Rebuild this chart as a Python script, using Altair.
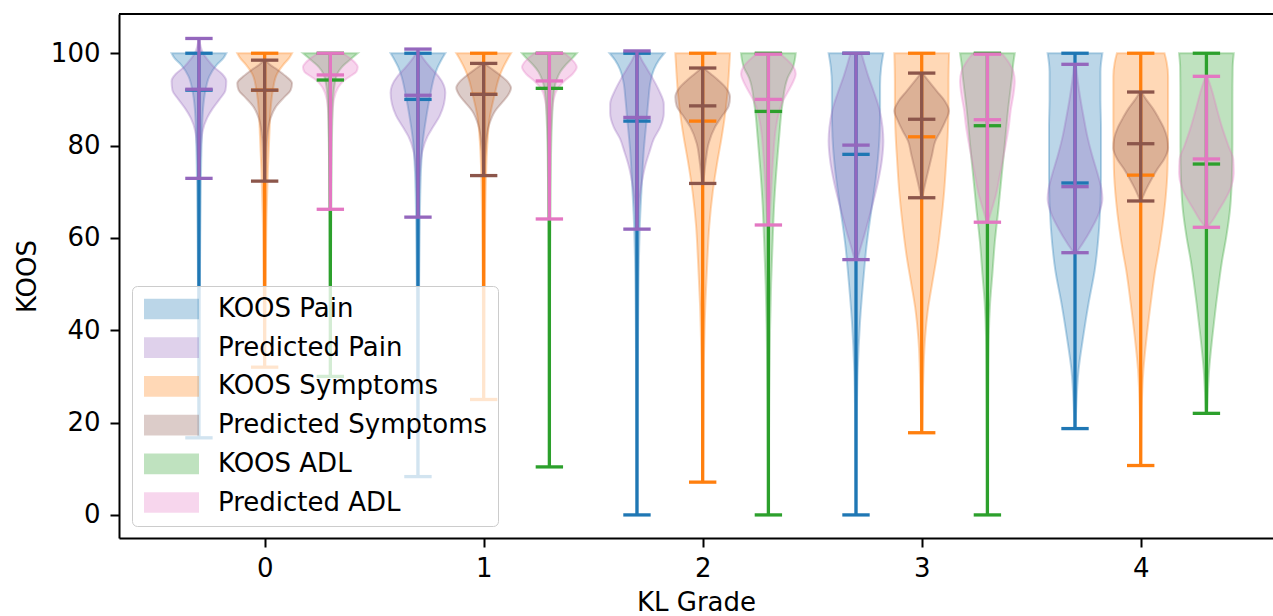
import altair as alt
import pandas as pd

# ---------------- data ----------------
grades = [0, 1, 2, 3, 4]
series = ["KOOS Pain", "Predicted Pain", "KOOS Symptoms",
          "Predicted Symptoms", "KOOS ADL", "Predicted ADL"]
colors = ["#1f77b4", "#9467bd", "#ff7f0e", "#8c564b", "#2ca02c", "#e377c2"]
offsets = [-0.3, -0.3, 0.0, 0.0, 0.3, 0.3]

mins_pain = [16.7, 8.3, 0.0, 0.0, 18.7]
med_pain = [92.0, 90.0, 85.3, 78.1, 71.9]
max_pain = [100, 100, 100, 100, 100]

mins_ppain = [72.9, 64.5, 61.9, 55.3, 56.8]
med_ppain = [92.2, 90.9, 86.1, 80.1, 71.1]
max_ppain = [103.2, 100.9, 100.5, 100.0, 97.6]

mins_sym = [32.0, 25.0, 7.1, 17.8, 10.7]
med_sym = [92.0, 91.1, 85.3, 81.9, 73.6]
max_sym = [100, 100, 100, 100, 100]

mins_psym = [72.3, 73.5, 71.8, 68.7, 68.0]
med_psym = [92.0, 91.1, 88.6, 85.7, 80.4]
max_psym = [98.5, 97.8, 96.8, 95.7, 91.6]

mins_adl = [30.0, 10.4, 0.0, 0.0, 22.0]
med_adl = [94.2, 92.4, 87.4, 84.3, 76.0]
max_adl = [100, 100, 100, 100, 100]

mins_padl = [66.2, 64.1, 62.8, 63.4, 62.3]
med_padl = [95.3, 94.0, 90.0, 85.6, 77.1]
max_padl = [100.0, 100.0, 99.8, 99.8, 95.0]

# violin outlines: [score, relative half width] from top to bottom, per grade
prof_pain = [
    [[100, 1.0], [99, 0.9], [97.5, 0.65], [95, 0.38], [92, 0.24], [88, 0.15], [81, 0.1], [72, 0.07], [55, 0.04], [35, 0.02], [16.7, 0.01]],
    [[100, 1.0], [98.5, 0.85], [97, 0.72], [95, 0.6], [91, 0.45], [86, 0.3], [81, 0.18], [73, 0.1], [60, 0.06], [40, 0.03], [20, 0.015], [8.3, 0.01]],
    [[100, 1.0], [98.5, 0.8], [96.5, 0.62], [94, 0.5], [90, 0.42], [86, 0.36], [79, 0.25], [72, 0.18], [65, 0.12], [55, 0.07], [40, 0.04], [20, 0.025], [0, 0.015]],
    [[100, 1.0], [97, 0.92], [93, 0.88], [88, 0.88], [82, 0.86], [77, 0.8], [72.7, 0.72], [65.5, 0.55], [58, 0.38], [53, 0.3], [42, 0.15], [31, 0.06], [20, 0.03], [0, 0.015]],
    [[100, 1.0], [96, 0.93], [90, 0.93], [84, 0.95], [73, 0.95], [62, 0.88], [53, 0.72], [46, 0.5], [38.6, 0.3], [31.4, 0.13], [24, 0.05], [18.7, 0.02]],
]
prof_ppain = [
    [[103.2, 0.01], [101.5, 0.06], [100, 0.15], [98.5, 0.33], [97, 0.55], [95.5, 0.85], [94, 1.0], [92, 0.97], [90, 0.75], [88, 0.5], [86, 0.3], [83, 0.13], [78, 0.05], [72.9, 0.02]],
    [[100.9, 0.01], [99.5, 0.12], [98, 0.3], [96.5, 0.52], [95, 0.75], [93, 0.95], [91.5, 1.0], [89, 0.95], [86.5, 0.8], [84, 0.55], [82, 0.35], [79, 0.17], [75, 0.08], [70, 0.04], [64.5, 0.02]],
    [[100.5, 0.02], [98.5, 0.18], [96.5, 0.38], [94.5, 0.58], [92, 0.8], [89, 0.98], [87, 0.98], [84, 0.85], [81.5, 0.62], [78.5, 0.45], [76, 0.32], [71, 0.15], [66, 0.06], [61.9, 0.02]],
    [[100, 0.2], [97.5, 0.32], [95, 0.45], [91.5, 0.66], [88, 0.85], [84, 0.97], [81, 1.0], [77, 0.95], [72, 0.8], [66, 0.55], [60.5, 0.3], [57.5, 0.15], [55.3, 0.05]],
    [[97.6, 0.03], [94, 0.1], [90, 0.2], [86, 0.32], [82, 0.45], [78, 0.62], [74, 0.82], [70.5, 0.97], [68.5, 1.0], [65, 0.85], [62, 0.6], [59, 0.3], [56.8, 0.05]],
]
prof_sym = [
    [[100, 1.0], [99, 0.9], [97.5, 0.68], [95.5, 0.45], [92, 0.3], [88, 0.22], [82, 0.17], [75, 0.12], [65, 0.07], [50, 0.04], [32, 0.015]],
    [[100, 1.0], [98.5, 0.85], [96.5, 0.68], [94.5, 0.55], [91, 0.4], [86, 0.22], [80, 0.13], [72, 0.08], [60, 0.05], [45, 0.03], [25, 0.015]],
    [[100, 1.0], [95, 0.95], [91, 0.9], [85.5, 0.79], [81, 0.67], [77, 0.55], [70, 0.37], [62.5, 0.24], [55, 0.17], [46, 0.1], [35, 0.05], [20, 0.025], [7.1, 0.01]],
    [[100, 1.0], [94, 0.98], [88, 0.98], [82, 0.95], [77, 0.9], [70, 0.82], [63, 0.7], [56, 0.55], [50, 0.38], [45, 0.24], [38, 0.12], [28, 0.05], [17.8, 0.01]],
    [[100, 0.87], [98, 0.95], [95, 1.0], [85, 1.0], [75, 0.98], [68, 0.9], [62, 0.78], [57, 0.65], [53, 0.53], [46, 0.37], [38.7, 0.22], [31.5, 0.1], [24, 0.04], [17, 0.02], [10.7, 0.01]],
]
prof_psym = [
    [[98.5, 0.03], [97.5, 0.2], [96.5, 0.45], [95, 0.78], [93.5, 1.0], [92, 0.95], [90.5, 0.72], [88.5, 0.42], [86, 0.22], [82, 0.1], [77, 0.05], [72.3, 0.02]],
    [[97.8, 0.03], [96.8, 0.25], [95.5, 0.55], [94, 0.85], [92.5, 1.0], [91, 0.9], [89.5, 0.7], [87.5, 0.42], [84.5, 0.2], [80, 0.08], [73.5, 0.02]],
    [[96.8, 0.03], [95.5, 0.3], [94, 0.6], [92.5, 0.85], [90.5, 1.0], [88.5, 0.95], [86.5, 0.72], [84, 0.45], [80.5, 0.22], [77, 0.12], [74, 0.06], [71.8, 0.02]],
    [[95.7, 0.03], [94, 0.25], [91.8, 0.55], [89.6, 0.85], [87.5, 1.0], [85.5, 0.88], [83, 0.68], [81, 0.5], [78, 0.38], [75.5, 0.28], [72, 0.14], [68.7, 0.02]],
    [[91.6, 0.03], [90, 0.2], [88, 0.45], [86, 0.65], [84, 0.83], [81.5, 0.97], [79.5, 1.0], [77, 0.85], [75, 0.62], [73, 0.42], [70.5, 0.2], [68, 0.02]],
]
prof_adl = [
    [[100, 1.0], [99, 0.8], [98, 0.6], [97, 0.42], [95.5, 0.25], [93, 0.15], [89, 0.09], [82, 0.06], [70, 0.04], [50, 0.02], [30, 0.01]],
    [[100, 1.0], [99, 0.85], [97.5, 0.6], [96, 0.4], [94, 0.25], [91, 0.15], [86, 0.1], [78, 0.06], [65, 0.04], [45, 0.02], [25, 0.015], [10.4, 0.01]],
    [[100, 1.0], [97, 0.9], [94.6, 0.7], [88.8, 0.51], [81.6, 0.39], [74.4, 0.29], [67.2, 0.21], [60, 0.16], [50, 0.1], [40, 0.06], [25, 0.03], [10, 0.015], [0, 0.01]],
    [[100, 1.0], [98, 0.95], [95, 0.9], [88, 0.76], [80.6, 0.64], [73.4, 0.52], [66.2, 0.4], [59, 0.27], [52, 0.18], [46, 0.1], [38.7, 0.05], [25, 0.025], [10, 0.015], [0, 0.01]],
    [[100, 1.0], [97, 0.96], [90, 0.95], [80, 0.95], [73, 0.93], [66, 0.86], [60, 0.72], [55, 0.57], [50, 0.45], [45.9, 0.36], [38.7, 0.22], [31.5, 0.1], [25, 0.04], [22, 0.02]],
]
prof_padl = [
    [[100, 0.45], [99, 0.7], [98, 0.9], [97, 1.0], [96, 0.95], [95, 0.72], [94, 0.48], [92.5, 0.28], [90, 0.13], [86, 0.07], [78, 0.04], [70, 0.02], [66.2, 0.01]],
    [[100, 0.55], [99, 0.75], [98, 0.92], [97, 1.0], [95.5, 0.85], [94, 0.55], [92.5, 0.32], [90, 0.16], [86, 0.08], [78, 0.04], [70, 0.02], [64.1, 0.01]],
    [[99.8, 0.45], [98.5, 0.7], [97.2, 0.9], [95.5, 1.0], [93.5, 0.88], [91.5, 0.7], [89.5, 0.52], [87, 0.38], [84, 0.28], [77, 0.17], [70, 0.1], [65, 0.05], [62.8, 0.02]],
    [[99.8, 0.55], [98, 0.78], [96, 0.95], [94, 1.0], [91, 0.95], [88, 0.86], [84, 0.78], [80.5, 0.68], [76.5, 0.55], [73.4, 0.45], [69, 0.3], [66, 0.15], [63.4, 0.02]],
    [[95, 0.03], [92, 0.2], [88, 0.38], [84, 0.57], [80, 0.8], [77, 0.98], [74, 1.0], [71, 0.9], [68.5, 0.7], [66, 0.45], [64, 0.25], [62.3, 0.03]],
]

all_mins = [mins_pain, mins_ppain, mins_sym, mins_psym, mins_adl, mins_padl]
all_meds = [med_pain, med_ppain, med_sym, med_psym, med_adl, med_padl]
all_maxs = [max_pain, max_ppain, max_sym, max_psym, max_adl, max_padl]
all_profs = [prof_pain, prof_ppain, prof_sym, prof_psym, prof_adl, prof_padl]

VIOLIN_WIDTH = 0.25

body_rows, stat_rows = [], []
for si, s in enumerate(series):
    for gi, g in enumerate(grades):
        pos = g + offsets[si]
        for yv, rel in all_profs[si][gi]:
            hw = VIOLIN_WIDTH / 2 * rel
            body_rows.append({"series": s, "vid": f"{s}-{g}", "y": yv,
                              "x_lo": pos - hw, "x_hi": pos + hw})
        stat_rows.append({"series": s, "grade": g, "pos": pos,
                          "cap_lo": pos - VIOLIN_WIDTH / 4, "cap_hi": pos + VIOLIN_WIDTH / 4,
                          "vmin": all_mins[si][gi], "vmed": all_meds[si][gi],
                          "vmax": all_maxs[si][gi]})
bodies = pd.DataFrame(body_rows)
stats = pd.DataFrame(stat_rows)

# ---------------- chart ----------------
W, H = 1154, 524
XMIN, XMAX = -0.665, 4.604
YMIN, YMAX = -5.0, 108.5
FONT = "DejaVu Sans"

xscale = alt.Scale(domain=[XMIN, XMAX], nice=False, zero=False)
yscale = alt.Scale(domain=[YMIN, YMAX], nice=False, zero=False)
xaxis = alt.Axis(values=grades, format="d", title="KL Grade", grid=False, labelFlush=False,
                 labelPadding=8, titlePadding=8)
yaxis = alt.Axis(values=[0, 20, 40, 60, 80, 100], title="KOOS", grid=False,
                 labelPadding=10, titlePadding=10)

legend = alt.Legend(
    title=None, orient="none", legendX=13, legendY=272,
    fillColor="rgba(255,255,255,0.8)", strokeColor="#cccccc", cornerRadius=5,
    padding=10, labelFontSize=26, labelFont=FONT, labelColor="black",
    labelLimit=400, labelOffset=50, rowPadding=12.7,
    symbolType="M-1,-0.94L4,-0.94L4,0.94L-1,0.94Z", symbolSize=484,
    symbolOpacity=0.3, symbolStrokeWidth=0,
)
color_enc = alt.Color("series:N", scale=alt.Scale(domain=series, range=colors), legend=legend)

layers = []
for si, s in enumerate(series):
    layers.append(
        alt.Chart(bodies).transform_filter(alt.datum.series == s)
        .mark_area(orient="horizontal", interpolate="monotone", fillOpacity=0.3,
                   stroke=colors[si], strokeOpacity=0.3, strokeWidth=2)
        .encode(y=alt.Y("y:Q", scale=yscale, axis=yaxis),
                x=alt.X("x_lo:Q", scale=xscale, axis=xaxis),
                x2="x_hi:Q", detail="vid:N", color=color_enc)
    )
for si, s in enumerate(series):
    base = alt.Chart(stats).transform_filter(alt.datum.series == s)
    layers.append(
        base.mark_rule(color=colors[si], strokeWidth=3.3)
        .encode(x=alt.X("pos:Q", scale=xscale, axis=xaxis),
                y=alt.Y("vmin:Q", scale=yscale, axis=yaxis), y2="vmax:Q")
    )
    layers.append(
        base.transform_fold(["vmin", "vmed", "vmax"], as_=["stat", "val"])
        .mark_rule(color=colors[si], strokeWidth=3.3)
        .encode(x=alt.X("cap_lo:Q", scale=xscale, axis=xaxis), x2="cap_hi:Q",
                y=alt.Y("val:Q", scale=yscale, axis=yaxis))
    )
# top frame line
layers.append(
    alt.Chart(pd.DataFrame({"k": [0]})).mark_rule(color="black", strokeWidth=2)
    .encode(x=alt.value(0), x2=alt.value(W), y=alt.value(0))
)

chart = (
    alt.layer(*layers)
    .properties(width=W, height=H, autosize="none",
                padding={"left": 119, "top": 14, "right": 0, "bottom": 78})
    .configure_view(stroke="transparent")
    .configure_axis(labelFont=FONT, labelFontSize=26, labelColor="black",
                    titleFont=FONT, titleFontSize=26, titleFontWeight="normal",
                    titleColor="black", domainColor="black", domainWidth=2,
                    tickColor="black", tickWidth=2, tickSize=9)
)

chart.save("out.html", embed_options={"renderer": "svg", "actions": False})
